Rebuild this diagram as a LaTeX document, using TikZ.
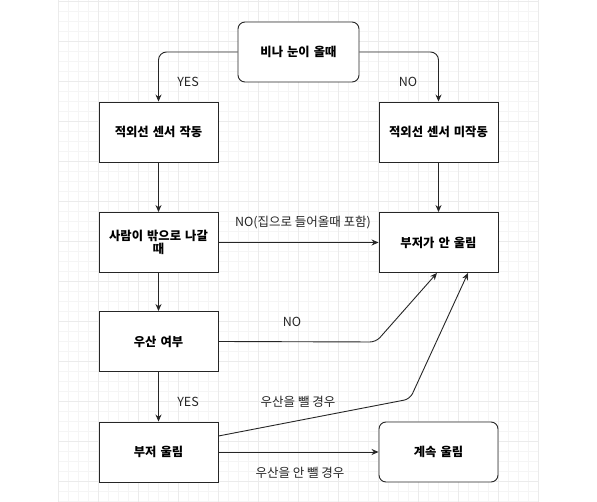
\documentclass[tikz,border=0pt]{standalone}
\usepackage{fontspec}
\setmainfont{Noto Sans CJK KR}
\usetikzlibrary{arrows.meta}
\begin{document}
\begin{tikzpicture}[x=1pt,y=-1pt,
 box/.style={draw=black!85,line width=0.9pt,fill=white,minimum width=119pt,minimum height=60pt,inner sep=2pt,font=\fontsize{12.3}{13}\selectfont\bfseries,align=center,text width=114pt},
 rbox/.style={box,rounded corners=7pt},
 conn/.style={draw=black!85,line width=0.9pt,-{Stealth[length=7pt,width=6pt]}},
 lbl/.style={font=\fontsize{12.5}{14}\selectfont,inner sep=0pt,text=black!85}
]
\useasboundingbox (0,0) rectangle (597,502);
\fill[white] (0,0) rectangle (597,502);
% grid
\foreach \x in {68,78,...,538} \draw[black!4,line width=0.5pt] (\x,0) -- (\x,502);
\foreach \y in {11,21,...,501} \draw[black!4,line width=0.5pt] (58,\y) -- (538,\y);
\foreach \x in {58,98,...,538} \draw[black!8,line width=0.6pt] (\x,0) -- (\x,502);
\foreach \y in {1,41,...,501} \draw[black!8,line width=0.6pt] (58,\y) -- (538,\y);

\node[rbox,minimum width=121pt] (top) at (298.5,52) {비나 눈이 올때};
\node[box] (ir) at (158.5,132) {적외선 센서 작동};
\node[box] (irn) at (438.5,132) {적외선 센서 미작동};
\node[box] (person) at (158.5,242.5) {사람이 밖으로 나갈\\때};
\node[box] (nobuz) at (438.5,242.5) {부저가 안 울림};
\node[box] (umb) at (158.5,341.5) {우산 여부};
\node[box] (buz) at (158.5,452) {부저 울림};
\node[rbox] (cont) at (438.5,452) {계속 울림};

\draw[conn,rounded corners=8pt] (top.west) -| (ir.north);
\draw[conn,rounded corners=8pt] (top.east) -| (irn.north);
\draw[conn] (ir) -- (person);
\draw[conn] (irn) -- (nobuz);
\draw[conn] (person) -- (nobuz);
\draw[conn] (person) -- (umb);
\draw[conn] (umb) -- (buz);
\draw[conn] (buz) -- (cont);
\coordinate (b1) at (376,342);
\coordinate (b2) at (410,399);
\draw[conn,rounded corners=6pt] (umb.east) -- (b1) -- ([xshift=-1.5pt]nobuz.south);
\draw[conn,rounded corners=6pt] ([yshift=16pt]buz.east) -- (b2) -- ([xshift=29.5pt]nobuz.south);

\node[lbl] (l1) at (188,82) {YES};
\node[lbl] (l2) at (408,82) {NO};
\node[lbl] (l3) at (303,223) {NO(집으로 들어올때 포함)};
\node[lbl] (l4) at (292,322) {NO};
\node[lbl] (l5) at (188,402) {YES};
\node[lbl] (l6) at (298,402) {우산을 뺄 경우};
\node[lbl] (l7) at (300,473) {우산을 안 뺄 경우};
\end{tikzpicture}
\end{document}
